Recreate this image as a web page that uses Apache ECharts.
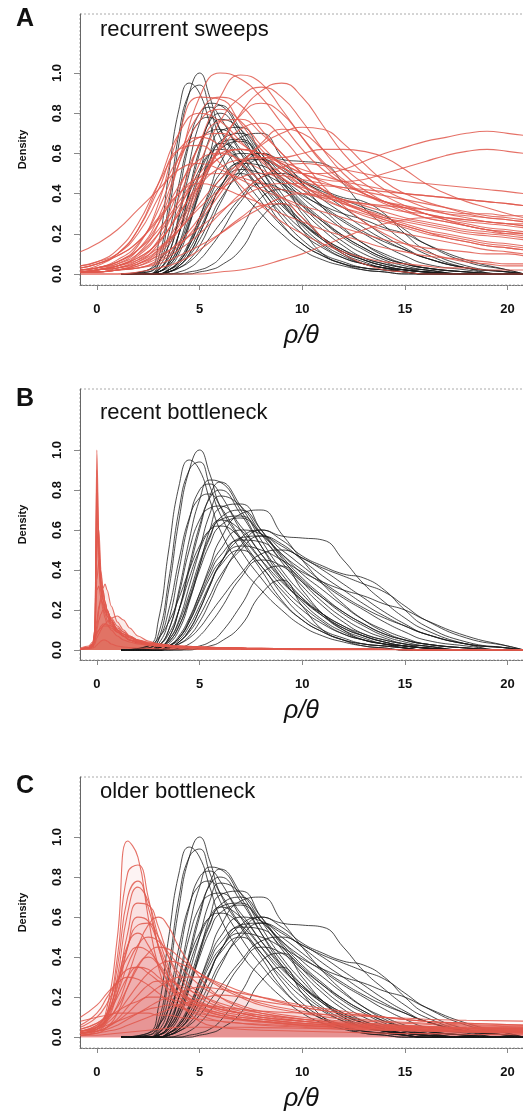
<!DOCTYPE html>
<html>
<head>
<meta charset="utf-8">
<script src="https://cdn.jsdelivr.net/npm/echarts@6/dist/echarts.min.js"></script>
<style>
html,body{margin:0;padding:0;background:#fff;}
#chart{width:523px;height:1120px;}
</style>
</head>
<body>
<div id="chart"></div>
<script>
// ---- tick labels ----
const xTicks = [0, 5, 10, 15, 20];
const yTicks = [0, 0.2, 0.4, 0.6, 0.8, 1.0];
const panelLetters = ['A', 'B', 'C'];
const panelTitles = ['recurrent sweeps', 'recent bottleneck', 'older bottleneck'];

// ---- x sample points ----
const xBlack = [1.2, 2.5, 3, 3.5, 4, 4.5, 5, 5.5, 6, 7, 8, 9, 10, 11, 12, 13, 14, 15, 16, 18, 20, 20.8];
const xRedA = [-0.8, 0, 1, 2, 3, 4, 5, 6, 7, 8, 9, 10, 11, 12, 13, 14, 15, 16, 17, 18, 19, 20, 20.8];
const xRedB = [-0.8, -0.4, -0.2, -0.1, 0, 0.1, 0.2, 0.3, 0.4, 0.5, 0.7, 1, 1.3, 1.6, 2, 2.5, 3, 4, 6, 8, 10, 13, 16, 20.8];
const xRedC = [-0.8, 0, 0.5, 1, 1.5, 2, 2.5, 3, 3.5, 4, 5, 6, 7, 8, 10, 12, 14, 16, 18, 20.8];

// ---- black (reference) densities, same in all panels ----
const blackDensities = [
  [0,0,0.05,0.3,0.65,0.9,1.0,0.88,0.72,0.55,0.4,0.25,0.15,0.09,0.05,0.03,0.02,0.01,0,0,0,0],
  [0,0.02,0.15,0.5,0.82,0.95,0.9,0.75,0.6,0.42,0.3,0.2,0.12,0.07,0.04,0.02,0.01,0,0,0,0,0],
  [0,0.01,0.08,0.35,0.7,0.9,0.94,0.82,0.68,0.5,0.36,0.24,0.15,0.09,0.05,0.03,0.02,0.01,0,0,0,0],
  [0,0,0.02,0.1,0.3,0.55,0.75,0.85,0.84,0.7,0.52,0.36,0.24,0.15,0.09,0.05,0.03,0.02,0.01,0,0,0],
  [0,0,0.03,0.15,0.4,0.65,0.8,0.83,0.78,0.6,0.45,0.32,0.22,0.14,0.08,0.05,0.03,0.02,0.01,0,0,0],
  [0,0,0.01,0.06,0.2,0.4,0.6,0.77,0.84,0.72,0.55,0.4,0.28,0.18,0.11,0.07,0.04,0.02,0.01,0,0,0],
  [0,0,0.01,0.05,0.15,0.32,0.5,0.68,0.77,0.72,0.58,0.44,0.32,0.22,0.14,0.08,0.05,0.03,0.01,0,0,0],
  [0,0,0,0.03,0.1,0.24,0.42,0.6,0.71,0.73,0.6,0.46,0.34,0.24,0.16,0.1,0.06,0.03,0.02,0,0,0],
  [0,0,0,0.02,0.06,0.15,0.28,0.42,0.55,0.68,0.7,0.58,0.45,0.33,0.23,0.15,0.09,0.05,0.03,0.01,0,0],
  [0,0,0,0.01,0.04,0.1,0.2,0.32,0.43,0.56,0.6,0.57,0.56,0.55,0.45,0.33,0.24,0.16,0.1,0.03,0,0],
  [0,0,0,0.01,0.03,0.07,0.14,0.24,0.35,0.52,0.6,0.55,0.47,0.42,0.38,0.36,0.3,0.2,0.12,0.04,0.01,0],
  [0,0,0.01,0.04,0.12,0.25,0.4,0.53,0.62,0.66,0.58,0.48,0.38,0.3,0.22,0.15,0.1,0.06,0.03,0.01,0,0],
  [0,0,0.02,0.08,0.2,0.36,0.5,0.6,0.65,0.6,0.48,0.36,0.26,0.18,0.12,0.07,0.04,0.02,0.01,0,0,0],
  [0,0,0,0,0.01,0.03,0.07,0.13,0.2,0.36,0.45,0.42,0.34,0.26,0.19,0.13,0.08,0.05,0.03,0.01,0,0],
  [0,0,0,0,0,0.01,0.02,0.04,0.08,0.22,0.38,0.42,0.3,0.18,0.1,0.05,0.03,0.01,0,0,0,0],
  [0,0,0,0.02,0.06,0.14,0.26,0.38,0.47,0.55,0.54,0.45,0.35,0.26,0.18,0.12,0.07,0.04,0.02,0,0,0],
  [0,0,0.01,0.05,0.14,0.28,0.44,0.57,0.66,0.7,0.6,0.47,0.36,0.27,0.19,0.13,0.08,0.05,0.03,0.01,0,0],
  [0,0,0,0.02,0.07,0.16,0.28,0.4,0.5,0.6,0.58,0.52,0.46,0.41,0.37,0.33,0.29,0.22,0.15,0.06,0.02,0],
  [0,0.02,0.06,0.14,0.26,0.4,0.52,0.6,0.62,0.56,0.45,0.34,0.25,0.18,0.12,0.08,0.05,0.03,0.02,0,0,0],
  [0,0,0,0.01,0.03,0.06,0.11,0.18,0.25,0.38,0.48,0.5,0.46,0.4,0.33,0.26,0.19,0.13,0.08,0.03,0.01,0],
  [0,0.01,0.05,0.2,0.45,0.66,0.76,0.78,0.72,0.56,0.42,0.3,0.2,0.13,0.08,0.05,0.03,0.01,0,0,0,0],
  [0,0,0.01,0.04,0.12,0.26,0.42,0.56,0.65,0.67,0.58,0.48,0.4,0.33,0.26,0.2,0.14,0.09,0.05,0.02,0,0],
  [0,0,0,0.02,0.06,0.14,0.25,0.36,0.44,0.52,0.5,0.45,0.39,0.34,0.3,0.27,0.23,0.2,0.15,0.07,0.02,0],
  [0,0,0,0.01,0.04,0.09,0.17,0.27,0.37,0.5,0.57,0.53,0.45,0.37,0.3,0.23,0.17,0.12,0.08,0.03,0.01,0],
  [0,0,0.01,0.06,0.2,0.42,0.62,0.76,0.8,0.68,0.52,0.38,0.26,0.17,0.1,0.06,0.03,0.02,0.01,0,0,0],
  [0,0,0,0,0,0,0.01,0.02,0.04,0.12,0.28,0.35,0.22,0.1,0.05,0.02,0.01,0,0,0,0,0],
  [0,0,0.02,0.1,0.28,0.5,0.65,0.71,0.72,0.62,0.48,0.35,0.25,0.17,0.11,0.07,0.04,0.02,0.01,0,0,0],
  [0,0,0,0.02,0.05,0.12,0.22,0.33,0.43,0.56,0.57,0.5,0.42,0.34,0.27,0.21,0.16,0.12,0.08,0.03,0.01,0],
  [0,0,0,0.01,0.04,0.1,0.2,0.32,0.42,0.5,0.42,0.28,0.17,0.1,0.06,0.03,0.02,0.01,0,0,0,0]
];

// ---- red densities, panel A: recurrent sweeps ----
const redSweeps = [
  [0.01,0.02,0.04,0.1,0.25,0.55,0.88,1.0,0.97,0.88,0.75,0.62,0.52,0.45,0.4,0.36,0.33,0.3,0.28,0.26,0.25,0.24,0.23],
  [0.01,0.01,0.03,0.07,0.17,0.38,0.65,0.88,0.99,0.95,0.82,0.68,0.55,0.46,0.4,0.36,0.33,0.3,0.27,0.25,0.23,0.22,0.21],
  [0.01,0.01,0.02,0.04,0.1,0.22,0.42,0.63,0.8,0.91,0.95,0.88,0.74,0.6,0.5,0.42,0.37,0.33,0.3,0.28,0.26,0.25,0.24],
  [0.01,0.02,0.03,0.06,0.15,0.32,0.55,0.76,0.88,0.93,0.88,0.76,0.62,0.5,0.42,0.36,0.32,0.28,0.26,0.24,0.22,0.21,0.2],
  [0.01,0.01,0.02,0.04,0.08,0.16,0.28,0.42,0.55,0.64,0.7,0.73,0.72,0.65,0.55,0.46,0.4,0.36,0.33,0.3,0.28,0.27,0.26],
  [0.02,0.03,0.06,0.12,0.22,0.36,0.5,0.6,0.62,0.58,0.53,0.5,0.5,0.52,0.56,0.6,0.63,0.66,0.68,0.7,0.71,0.7,0.69],
  [0.01,0.02,0.04,0.08,0.16,0.3,0.46,0.58,0.62,0.6,0.55,0.5,0.47,0.46,0.47,0.5,0.53,0.56,0.59,0.61,0.62,0.61,0.6],
  [0.01,0.02,0.03,0.06,0.12,0.22,0.35,0.47,0.55,0.58,0.58,0.6,0.62,0.62,0.61,0.58,0.52,0.45,0.4,0.36,0.33,0.3,0.28],
  [0.02,0.03,0.07,0.15,0.32,0.58,0.8,0.88,0.84,0.72,0.6,0.5,0.42,0.36,0.31,0.27,0.24,0.21,0.19,0.17,0.15,0.14,0.13],
  [0.03,0.05,0.1,0.22,0.45,0.7,0.8,0.76,0.66,0.56,0.48,0.42,0.37,0.33,0.3,0.27,0.24,0.21,0.18,0.16,0.14,0.13,0.12],
  [0.11,0.15,0.22,0.32,0.42,0.52,0.55,0.52,0.47,0.42,0.38,0.34,0.31,0.28,0.25,0.22,0.2,0.18,0.16,0.14,0.12,0.11,0.1],
  [0.04,0.06,0.1,0.2,0.38,0.58,0.68,0.7,0.65,0.57,0.5,0.44,0.39,0.35,0.32,0.29,0.27,0.25,0.23,0.21,0.2,0.19,0.18],
  [0.02,0.03,0.05,0.1,0.2,0.34,0.48,0.58,0.62,0.6,0.56,0.52,0.49,0.46,0.44,0.42,0.4,0.39,0.38,0.37,0.36,0.35,0.34],
  [0.01,0.02,0.05,0.12,0.28,0.55,0.76,0.82,0.76,0.64,0.54,0.46,0.4,0.35,0.31,0.28,0.25,0.22,0.2,0.18,0.16,0.15,0.14],
  [0.01,0.02,0.04,0.07,0.13,0.22,0.33,0.42,0.48,0.5,0.49,0.47,0.45,0.43,0.41,0.39,0.37,0.35,0.33,0.31,0.29,0.28,0.27],
  [0,0,0,0,0,0,0,0.01,0.02,0.04,0.07,0.1,0.14,0.18,0.22,0.25,0.27,0.28,0.28,0.27,0.26,0.25,0.24],
  [0.01,0.01,0.02,0.05,0.12,0.26,0.45,0.62,0.72,0.75,0.68,0.56,0.44,0.34,0.26,0.2,0.15,0.11,0.08,0.06,0.05,0.04,0.04],
  [0.03,0.05,0.09,0.16,0.28,0.4,0.45,0.43,0.39,0.35,0.3,0.26,0.22,0.19,0.16,0.13,0.11,0.09,0.08,0.07,0.06,0.05,0.05],
  [0.02,0.03,0.06,0.12,0.25,0.44,0.57,0.6,0.57,0.52,0.47,0.43,0.4,0.37,0.35,0.33,0.31,0.3,0.28,0.27,0.26,0.25,0.25],
  [0.01,0.01,0.02,0.03,0.07,0.14,0.26,0.4,0.54,0.65,0.72,0.7,0.62,0.53,0.45,0.39,0.34,0.3,0.27,0.24,0.22,0.2,0.19],
  [0.01,0.01,0.02,0.03,0.06,0.12,0.2,0.3,0.4,0.48,0.53,0.55,0.54,0.52,0.5,0.48,0.46,0.45,0.44,0.43,0.42,0.41,0.4],
  [0.02,0.03,0.06,0.14,0.35,0.7,0.88,0.87,0.75,0.62,0.52,0.44,0.38,0.33,0.29,0.26,0.23,0.2,0.18,0.16,0.14,0.13,0.12],
  [0.02,0.04,0.1,0.22,0.42,0.62,0.64,0.55,0.44,0.34,0.26,0.2,0.15,0.11,0.08,0.06,0.05,0.04,0.03,0.03,0.02,0.02,0.02],
  [0.01,0.02,0.04,0.08,0.16,0.3,0.44,0.53,0.57,0.58,0.55,0.5,0.46,0.42,0.39,0.36,0.34,0.32,0.3,0.29,0.28,0.27,0.26],
  [0.01,0.02,0.04,0.09,0.2,0.42,0.64,0.76,0.77,0.7,0.6,0.5,0.42,0.36,0.32,0.28,0.26,0.24,0.22,0.2,0.19,0.18,0.17],
  [0.01,0.02,0.03,0.05,0.09,0.15,0.23,0.31,0.38,0.43,0.45,0.45,0.44,0.43,0.42,0.41,0.4,0.39,0.38,0.37,0.36,0.35,0.34],
  [0.04,0.06,0.12,0.25,0.45,0.62,0.68,0.64,0.55,0.46,0.38,0.32,0.27,0.23,0.2,0.17,0.15,0.13,0.12,0.11,0.1,0.1,0.09],
  [0.03,0.05,0.09,0.16,0.27,0.4,0.48,0.5,0.48,0.45,0.42,0.4,0.38,0.36,0.35,0.34,0.33,0.32,0.31,0.3,0.3,0.29,0.29],
  [0.01,0.01,0.02,0.05,0.11,0.24,0.44,0.64,0.79,0.85,0.8,0.68,0.56,0.47,0.4,0.35,0.31,0.28,0.26,0.24,0.22,0.21,0.2],
  [0.01,0.01,0.02,0.03,0.05,0.09,0.14,0.2,0.27,0.33,0.38,0.4,0.39,0.37,0.34,0.31,0.28,0.26,0.24,0.22,0.21,0.2,0.2],
  [0,0,0,0.01,0.03,0.06,0.12,0.2,0.28,0.34,0.35,0.28,0.18,0.1,0.05,0.02,0.01,0,0,0,0,0,0]
];

// ---- red densities, panel B: recent bottleneck ----
const redRecent = [
  [0.005,0.01,0.02,0.05,1.0,0.55,0.35,0.28,0.24,0.2,0.15,0.1,0.07,0.05,0.035,0.025,0.02,0.012,0.008,0.005,0.004,0.003,0.002,0.001],
  [0.005,0.01,0.02,0.08,0.8,0.5,0.32,0.25,0.2,0.17,0.13,0.09,0.07,0.05,0.035,0.025,0.02,0.012,0.008,0.005,0.004,0.003,0.002,0.001],
  [0.005,0.01,0.03,0.1,0.55,0.6,0.4,0.3,0.24,0.2,0.15,0.1,0.07,0.05,0.04,0.03,0.02,0.015,0.01,0.006,0.004,0.003,0.002,0.001],
  [0.004,0.01,0.02,0.05,0.12,0.2,0.27,0.31,0.33,0.3,0.22,0.14,0.1,0.07,0.05,0.035,0.025,0.015,0.01,0.006,0.004,0.003,0.002,0.001],
  [0.003,0.008,0.015,0.03,0.06,0.08,0.1,0.12,0.13,0.14,0.16,0.17,0.15,0.11,0.07,0.045,0.03,0.018,0.01,0.006,0.004,0.003,0.002,0.001],
  [0.005,0.01,0.03,0.1,0.35,0.45,0.38,0.3,0.24,0.2,0.15,0.1,0.07,0.05,0.04,0.03,0.02,0.015,0.01,0.006,0.004,0.003,0.002,0.001],
  [0.005,0.012,0.03,0.06,0.15,0.22,0.25,0.23,0.2,0.17,0.13,0.09,0.07,0.05,0.04,0.03,0.025,0.018,0.012,0.008,0.005,0.003,0.002,0.001],
  [0.003,0.006,0.01,0.015,0.025,0.035,0.045,0.05,0.05,0.045,0.03,0.02,0.015,0.012,0.01,0.008,0.006,0.005,0.004,0.003,0.002,0.002,0.001,0.001],
  [0.006,0.012,0.025,0.07,0.7,0.45,0.3,0.25,0.22,0.19,0.14,0.1,0.08,0.06,0.045,0.035,0.028,0.02,0.012,0.008,0.005,0.003,0.002,0.001],
  [0.01,0.02,0.04,0.06,0.09,0.1,0.11,0.12,0.12,0.12,0.11,0.09,0.08,0.065,0.05,0.04,0.03,0.02,0.012,0.008,0.005,0.003,0.002,0.001],
  [0.004,0.01,0.02,0.04,0.1,0.15,0.18,0.2,0.2,0.19,0.16,0.12,0.09,0.065,0.045,0.03,0.022,0.015,0.01,0.006,0.004,0.003,0.002,0.001],
  [0.005,0.01,0.02,0.06,0.9,0.5,0.33,0.26,0.21,0.18,0.14,0.1,0.08,0.06,0.045,0.03,0.022,0.015,0.01,0.006,0.004,0.003,0.002,0.001],
  [0.005,0.01,0.025,0.08,0.6,0.4,0.28,0.22,0.18,0.15,0.12,0.09,0.07,0.05,0.04,0.03,0.022,0.015,0.01,0.006,0.004,0.003,0.002,0.001],
  [0.004,0.01,0.02,0.05,0.3,0.32,0.26,0.2,0.16,0.13,0.1,0.07,0.05,0.04,0.03,0.025,0.02,0.014,0.009,0.006,0.004,0.003,0.002,0.001],
  [0.006,0.015,0.03,0.05,0.08,0.1,0.12,0.13,0.13,0.125,0.12,0.11,0.09,0.07,0.05,0.035,0.025,0.015,0.01,0.006,0.004,0.003,0.002,0.001]
];

// ---- red densities, panel C: older bottleneck ----
const redOlder = [
  [0.02,0.05,0.15,0.5,0.98,0.9,0.6,0.35,0.22,0.16,0.12,0.1,0.09,0.08,0.06,0.05,0.04,0.035,0.03,0.025],
  [0.02,0.04,0.12,0.4,0.82,0.86,0.7,0.45,0.3,0.2,0.13,0.1,0.085,0.075,0.06,0.05,0.04,0.035,0.03,0.025],
  [0.02,0.05,0.12,0.35,0.7,0.78,0.65,0.45,0.3,0.22,0.15,0.12,0.1,0.09,0.07,0.055,0.045,0.04,0.035,0.03],
  [0.03,0.05,0.1,0.3,0.62,0.75,0.68,0.5,0.35,0.25,0.16,0.12,0.1,0.09,0.07,0.06,0.05,0.04,0.035,0.03],
  [0.02,0.04,0.09,0.25,0.52,0.67,0.66,0.55,0.4,0.3,0.2,0.15,0.12,0.1,0.08,0.06,0.05,0.045,0.04,0.035],
  [0.03,0.05,0.08,0.16,0.3,0.45,0.56,0.6,0.55,0.45,0.3,0.2,0.15,0.12,0.09,0.07,0.06,0.05,0.045,0.04],
  [0.03,0.06,0.12,0.26,0.45,0.56,0.57,0.5,0.4,0.32,0.22,0.16,0.13,0.11,0.08,0.065,0.055,0.05,0.045,0.04],
  [0.04,0.07,0.12,0.22,0.36,0.46,0.5,0.48,0.42,0.36,0.26,0.2,0.16,0.13,0.1,0.08,0.065,0.055,0.05,0.045],
  [0.03,0.05,0.09,0.15,0.25,0.35,0.42,0.45,0.44,0.4,0.32,0.25,0.2,0.16,0.12,0.09,0.075,0.065,0.055,0.05],
  [0.05,0.1,0.17,0.28,0.4,0.45,0.43,0.37,0.3,0.25,0.18,0.14,0.12,0.1,0.08,0.065,0.055,0.05,0.045,0.04],
  [0.02,0.04,0.07,0.12,0.19,0.26,0.32,0.36,0.38,0.37,0.32,0.26,0.21,0.17,0.13,0.1,0.08,0.07,0.06,0.05],
  [0.02,0.03,0.05,0.08,0.12,0.17,0.21,0.25,0.28,0.3,0.3,0.27,0.23,0.2,0.15,0.12,0.1,0.08,0.07,0.06],
  [0.06,0.12,0.2,0.28,0.34,0.35,0.32,0.28,0.24,0.21,0.17,0.14,0.12,0.1,0.08,0.065,0.055,0.05,0.045,0.04],
  [0.02,0.03,0.04,0.06,0.09,0.12,0.15,0.18,0.2,0.22,0.25,0.24,0.22,0.2,0.16,0.13,0.1,0.08,0.065,0.055],
  [0.04,0.07,0.1,0.13,0.16,0.18,0.2,0.2,0.19,0.18,0.16,0.14,0.12,0.11,0.09,0.075,0.065,0.055,0.05,0.045],
  [0.08,0.1,0.11,0.12,0.12,0.12,0.12,0.11,0.11,0.1,0.09,0.08,0.07,0.065,0.055,0.045,0.04,0.035,0.03,0.03],
  [0.01,0.02,0.05,0.12,0.25,0.36,0.4,0.36,0.27,0.18,0.08,0.05,0.04,0.035,0.03,0.025,0.02,0.018,0.015,0.012],
  [0.1,0.16,0.22,0.27,0.3,0.29,0.26,0.22,0.18,0.15,0.11,0.08,0.07,0.06,0.05,0.04,0.035,0.03,0.025,0.02],
  [0.01,0.02,0.03,0.04,0.06,0.08,0.1,0.12,0.14,0.16,0.19,0.21,0.2,0.18,0.15,0.12,0.1,0.08,0.07,0.06],
  [0.02,0.04,0.1,0.28,0.46,0.52,0.46,0.36,0.27,0.2,0.14,0.11,0.09,0.08,0.065,0.055,0.045,0.04,0.035,0.03],
  [0.01,0.01,0.015,0.02,0.025,0.03,0.035,0.04,0.045,0.05,0.05,0.05,0.05,0.048,0.045,0.04,0.035,0.03,0.025,0.02],
  [0.03,0.04,0.06,0.08,0.1,0.12,0.14,0.15,0.16,0.16,0.16,0.15,0.14,0.13,0.12,0.11,0.1,0.09,0.085,0.08],
  [0.03,0.06,0.11,0.2,0.3,0.35,0.34,0.3,0.26,0.22,0.17,0.13,0.11,0.09,0.07,0.06,0.05,0.045,0.04,0.035],
  [0.02,0.03,0.05,0.09,0.15,0.21,0.26,0.28,0.28,0.26,0.21,0.17,0.14,0.12,0.09,0.07,0.06,0.05,0.045,0.04],
  [0.01,0.03,0.08,0.22,0.45,0.6,0.58,0.46,0.33,0.24,0.15,0.11,0.09,0.08,0.06,0.05,0.04,0.035,0.03,0.025]
];

// ---- layout ----
const panels = [
  { top: 14,  height: 271, ymin: -0.055, ymax: 1.294, red: redSweeps, redX: xRedA, titleY: 30,  letterY: 19,  spike: false, fill: 0 },
  { top: 389, height: 271, ymin: -0.05,  ymax: 1.305, red: redRecent, redX: xRedB, titleY: 413, letterY: 399, spike: true,  fill: 0.12 },
  { top: 777, height: 271, ymin: -0.054, ymax: 1.30,  red: redOlder,  redX: xRedC, titleY: 792, letterY: 786, spike: false, fill: 0.035 }
];
const XMIN = -0.82, XMAX = 20.75, LEFT = 80;

const grids = [], xAxes = [], yAxes = [], series = [], graphics = [];
const font = '"Liberation Sans", Arial, sans-serif';

panels.forEach((p, i) => {
  grids.push({ left: LEFT, right: 0, top: p.top, height: p.height, containLabel: false });
  xAxes.push({
    gridIndex: i, type: 'value', min: XMIN, max: XMAX,
    name: 'ρ/θ', nameLocation: 'middle', nameGap: 39,
    nameTextStyle: { fontFamily: font, fontStyle: 'italic', fontSize: 25, color: '#111' },
    axisLine: { show: true, onZero: false, lineStyle: { color: '#777', width: 1, type: [2, 1] } },
    axisTick: { show: true, length: 5, customValues: xTicks, lineStyle: { color: '#888' } },
    axisLabel: { customValues: xTicks, margin: 18, fontFamily: font, fontSize: 13, fontWeight: 'bold', color: '#111' },
    splitLine: { show: false }
  });
  yAxes.push({
    gridIndex: i, type: 'value', min: p.ymin, max: p.ymax,
    name: 'Density', nameLocation: 'middle', nameRotate: 90, nameGap: 52,
    nameTextStyle: { fontFamily: font, fontSize: 11, fontWeight: 'bold', color: '#111' },
    axisLine: { show: true, onZero: false, lineStyle: { color: '#666', width: 1 } },
    axisTick: { show: true, length: 6, customValues: yTicks, lineStyle: { color: '#888' } },
    axisLabel: { customValues: yTicks, rotate: 90, margin: 16, fontFamily: font, fontSize: 13, fontWeight: 'bold', color: '#111',
      formatter: v => Number(v).toFixed(1) },
    splitLine: { show: false }
  });
  blackDensities.forEach(ys => {
    series.push({
      type: 'line', xAxisIndex: i, yAxisIndex: i, silent: true, animation: false,
      symbol: 'none', smooth: 0.5,
      lineStyle: { color: '#1a1a1a', width: 1, opacity: 0.78 },
      data: xBlack.map((x, k) => [x, ys[k]])
    });
  });
  p.red.forEach(ys => {
    const s = {
      type: 'line', xAxisIndex: i, yAxisIndex: i, silent: true, animation: false,
      symbol: 'none', smooth: p.spike ? 0.3 : 0.5,
      lineStyle: { color: '#e0584c', width: 1.1, opacity: 0.85 },
      data: p.redX.map((x, k) => [x, ys[k]])
    };
    if (p.spike) s.smoothMonotone = 'x';
    if (p.fill) s.areaStyle = { color: '#e0584c', opacity: p.fill, origin: 'auto' };
    series.push(s);
  });
  // dotted frame
  graphics.push({
    type: 'rect', silent: true,
    shape: { x: LEFT, y: p.top, width: 523 - LEFT + 5, height: p.height },
    style: { fill: null, stroke: '#aaa', lineWidth: 1, lineDash: [2, 2] }
  });
  graphics.push({
    type: 'text', x: 16, y: p.letterY,
    style: { text: panelLetters[i], font: 'bold 25px ' + font, fill: '#111', align: 'left', verticalAlign: 'middle' }
  });
  graphics.push({
    type: 'text', x: 100, y: p.titleY,
    style: { text: panelTitles[i], font: '22px ' + font, fill: '#111', align: 'left', verticalAlign: 'middle' }
  });
});

const chart = echarts.init(document.getElementById('chart'), null, { renderer: 'canvas' });
chart.setOption({
  backgroundColor: '#fff',
  animation: false,
  grid: grids, xAxis: xAxes, yAxis: yAxes, series: series, graphic: graphics
});
</script>
</body>
</html>
